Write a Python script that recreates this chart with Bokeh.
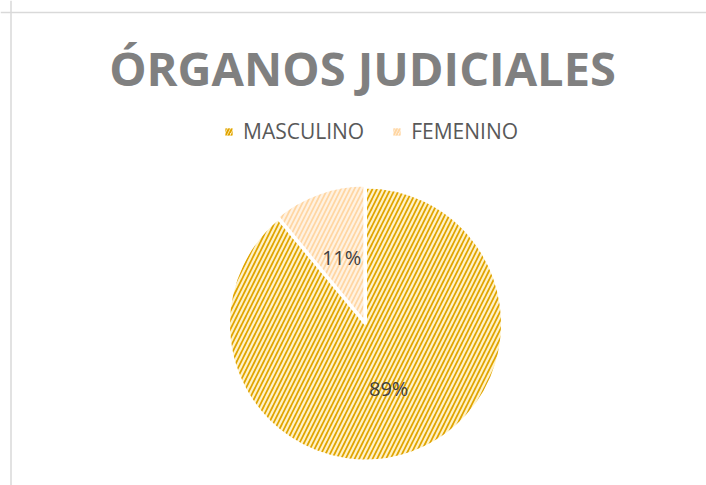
import numpy as np
from bokeh.plotting import figure
from bokeh.models import ColumnDataSource, Range1d, Label, Span, Legend, LegendItem
from bokeh.core.properties import value
from bokeh.embed import file_html
from bokeh.resources import INLINE

# ---- data ----
title_text = "ÓRGANOS JUDICIALES"
categories = ["MASCULINO", "FEMENINO"]
shares = [89, 11]
pct_labels = ["89%", "11%"]
fill_colors = ["#FFF2C8", "#FFF2E2"]
hatch_colors = ["#E0A400", "#FFD6A2"]
explode_px = [0, 2]

# ---- layout (pixel-mapped canvas) ----
W, H = 706, 485
cx, cy, r = 365, 161.5, 137

p = figure(width=W, height=H, output_backend="svg", toolbar_location=None,
           x_range=Range1d(0, W), y_range=Range1d(0, H),
           min_border=0, x_axis_type=None, y_axis_type=None)
p.grid.visible = False
p.outline_line_color = None
p.background_fill_color = "white"
p.border_fill_color = "white"

# chart frame (top and left edges visible in crop)
p.add_layout(Span(location=10.5, dimension="height", line_color="#D9D9D9", line_width=1.5))
p.add_layout(Span(location=H - 12, dimension="width", line_color="#D9D9D9", line_width=1.5))

frac = np.array(shares, dtype=float) / sum(shares)
cum = np.concatenate([[0], np.cumsum(frac)])
start = np.pi / 2 - 2 * np.pi * cum[:-1]
end = np.pi / 2 - 2 * np.pi * cum[1:]
mid = (start + end) / 2
xs = cx + np.array(explode_px) * np.cos(mid)
ys = cy + np.array(explode_px) * np.sin(mid)
nan = np.full(len(categories), np.nan)

src = ColumnDataSource(dict(x=xs, y=ys, start=start, end=end, cat=categories,
                            fill=fill_colors, hatch=hatch_colors,
                            lx=xs + 0.5 * r * np.cos(mid), ly=ys + 0.5 * r * np.sin(mid),
                            lab=pct_labels, nan=nan))

p.wedge(x="x", y="y", radius=r, start_angle="start", end_angle="end",
        direction="clock", source=src, fill_color="fill", line_color="white",
        line_width=3, hatch_pattern="/", hatch_color="hatch", hatch_scale=9,
        hatch_weight=1.7)

# square legend swatches (no marks drawn on the plot)
sw = p.quad(left="nan", right="nan", top="nan", bottom="nan", source=src,
            fill_color="fill", line_color=None,
            hatch_pattern="/", hatch_color="hatch", hatch_scale=6, hatch_weight=2)

p.text(x="lx", y="ly", text="lab", source=src, text_align="center",
       text_baseline="middle", text_font=value("Open Sans"),
       text_font_size="20px", text_color="#404040")

p.add_layout(Label(x=362, y=H - 67, text=title_text, text_align="center",
                   text_baseline="alphabetic", text_font="Open Sans",
                   text_font_style="bold", text_font_size="47px",
                   text_color="#808080"))

legend = Legend(items=[LegendItem(label=categories[i], renderers=[sw], index=i)
                       for i in range(len(categories))],
                orientation="horizontal", location=(224, 340),
                glyph_width=9, glyph_height=9, label_standoff=10, spacing=28,
                padding=0, margin=0, border_line_alpha=0, background_fill_alpha=0,
                label_text_font="Open Sans", label_text_font_size="21px",
                label_text_color="#595959")
p.add_layout(legend, "center")

open("out.html", "w").write(file_html(p, INLINE))
